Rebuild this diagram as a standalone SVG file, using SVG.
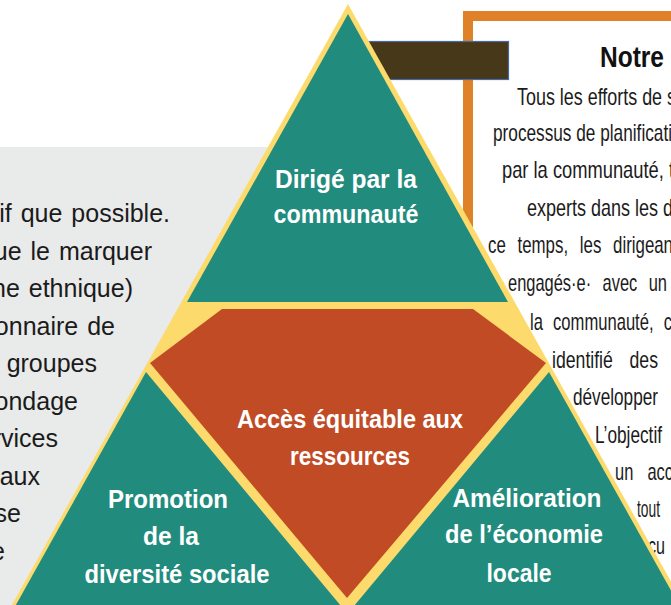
<svg xmlns="http://www.w3.org/2000/svg" width="671" height="605" viewBox="0 0 671 605">
<style>
.body{font-family:"Liberation Sans",Arial,sans-serif;font-size:24px;fill:#1b1b1b}
.left{font-family:"Liberation Sans",Arial,sans-serif;font-size:25px;fill:#1b1b1b;text-anchor:end;word-spacing:2px}
.lbl{font-family:"Liberation Sans",Arial,sans-serif;font-weight:bold;font-size:25px;fill:#ffffff;text-anchor:middle}
.teal{fill:#218B7D}
</style>
<rect width="671" height="605" fill="#ffffff"/>
<g id="left-panel">
<rect x="0" y="147" width="360" height="460" fill="#E9EAEA"/>
<text class="left" x="170" y="222">if que possible.</text>
<text class="left" x="152" y="259.5">ue le marquer</text>
<text class="left" x="133" y="297">ne ethnique)</text>
<text class="left" x="115" y="334.5">onnaire de</text>
<text class="left" x="97" y="372">groupes</text>
<text class="left" x="78" y="409.5">ondage</text>
<text class="left" x="58" y="447">rvices</text>
<text class="left" x="40" y="484.5">aux</text>
<text class="left" x="21" y="522">se</text>
<text class="left" x="5" y="559.5">e</text>
</g>
<g id="notre-box">
<rect x="468" y="16" width="260" height="700" fill="none" stroke="#DF8227" stroke-width="10"/>
<rect x="355" y="41.5" width="153.5" height="38" fill="#48381A" stroke="#4468A8" stroke-width="1.2"/>
<text x="600" y="67" font-family="'Liberation Sans',Arial,sans-serif" font-weight="bold" font-size="30" fill="#111" textLength="64" lengthAdjust="spacingAndGlyphs">Notre</text>
<text class="body" x="517" y="105" textLength="159" lengthAdjust="spacingAndGlyphs">Tous les efforts de s</text>
<text class="body" x="493" y="141" textLength="179" lengthAdjust="spacingAndGlyphs">processus de planificati</text>
<text class="body" x="502" y="178" textLength="172" lengthAdjust="spacingAndGlyphs">par la communauté, t</text>
<text class="body" x="527" y="215.5" textLength="146" lengthAdjust="spacingAndGlyphs">experts dans les d</text>
<text class="body" x="488" y="253" textLength="185" lengthAdjust="spacingAndGlyphs" word-spacing="10">ce temps, les dirigean</text>
<text class="body" x="508" y="291" textLength="159" lengthAdjust="spacingAndGlyphs" word-spacing="10">engagés·e· avec un</text>
<text class="body" x="530" y="329.5" textLength="142" lengthAdjust="spacingAndGlyphs" word-spacing="8">la communauté, c</text>
<text class="body" x="552" y="367.5" textLength="106" lengthAdjust="spacingAndGlyphs" word-spacing="16">identifié des</text>
<text class="body" x="573" y="405" textLength="85" lengthAdjust="spacingAndGlyphs">développer</text>
<text class="body" x="595" y="442.5" textLength="67" lengthAdjust="spacingAndGlyphs">L’objectif</text>
<text class="body" x="615" y="479.5" textLength="58" lengthAdjust="spacingAndGlyphs" word-spacing="14">un acc</text>
<text class="body" x="637" y="517" textLength="23" lengthAdjust="spacingAndGlyphs">tout</text>
<text class="body" x="648" y="554" textLength="17" lengthAdjust="spacingAndGlyphs">cu</text>
</g>
<g id="pyramid-base">
<polygon points="348,4 8,612 688,612" fill="#FCDA6C"/>
</g>
<g id="node-top">
<polygon class="teal" points="348,14 187,302 508,302"/>
<text class="lbl" x="346" y="188" textLength="142" lengthAdjust="spacingAndGlyphs">Dirigé par la</text>
<text class="lbl" x="346" y="223" textLength="145" lengthAdjust="spacingAndGlyphs">communauté</text>
</g>
<g id="node-center">
<polygon points="222,309 473,309 546,363 347,598 150,363" fill="#C04B25"/>
<text class="lbl" x="350" y="428" textLength="226" lengthAdjust="spacingAndGlyphs">Accès équitable aux</text>
<text class="lbl" x="350" y="465" textLength="120" lengthAdjust="spacingAndGlyphs">ressources</text>
</g>
<g id="node-left">
<polygon class="teal" points="146,372 12,612 346,612"/>
<text class="lbl" x="168" y="508" textLength="120" lengthAdjust="spacingAndGlyphs">Promotion</text>
<text class="lbl" x="171" y="545" textLength="56" lengthAdjust="spacingAndGlyphs">de la</text>
<text class="lbl" x="177" y="583" textLength="185" lengthAdjust="spacingAndGlyphs">diversité sociale</text>
</g>
<g id="node-right">
<polygon class="teal" points="549,372 349,612 683,612"/>
<text class="lbl" x="527" y="507" textLength="149" lengthAdjust="spacingAndGlyphs">Amélioration</text>
<text class="lbl" x="524" y="543" textLength="158" lengthAdjust="spacingAndGlyphs">de l’économie</text>
<text class="lbl" x="519" y="582" textLength="65" lengthAdjust="spacingAndGlyphs">locale</text>
</g>
<g id="connectors"/>
</svg>
